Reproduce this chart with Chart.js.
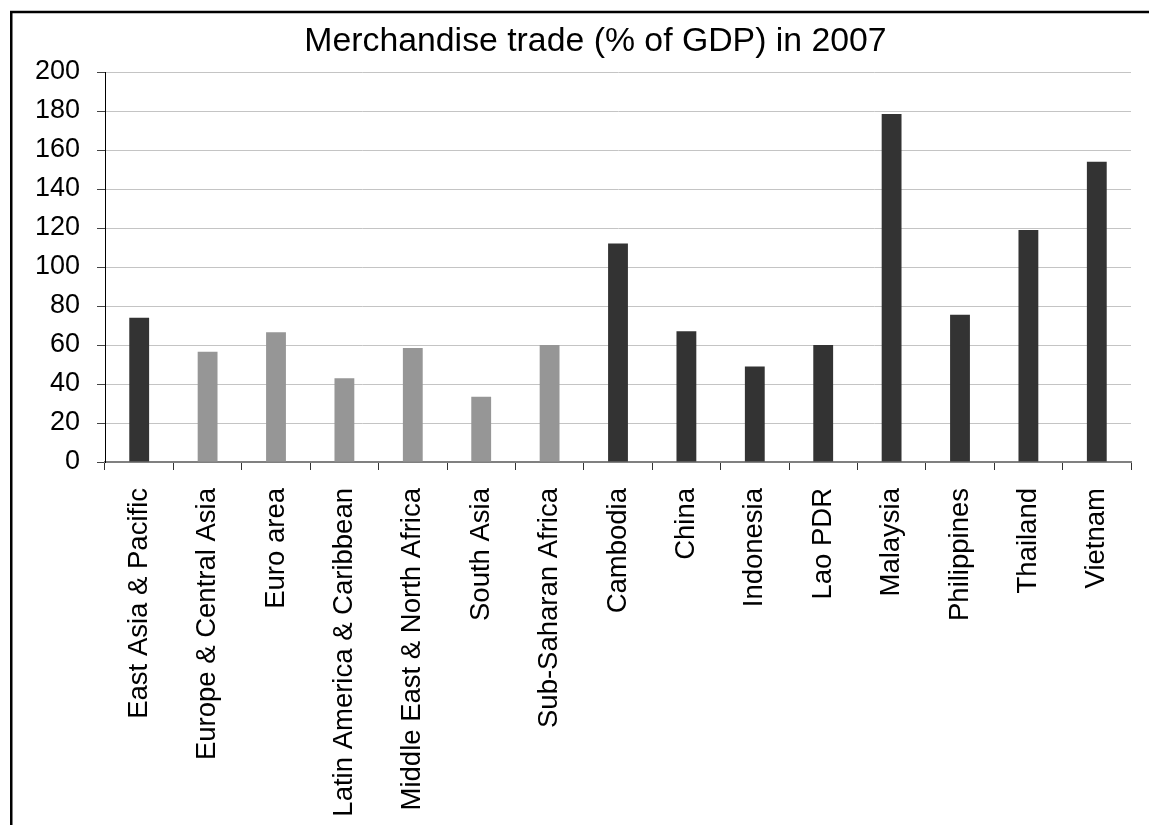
<!DOCTYPE html>
<html>
<head>
<meta charset="utf-8">
<script src="https://cdn.jsdelivr.net/npm/chart.js@4/dist/chart.umd.min.js"></script>
<style>
  html, body { margin: 0; padding: 0; background: #fff; }
  canvas { display: block; }
</style>
</head>
<body>
<canvas id="grafico" width="1149" height="825"></canvas>
<script>
// categorias del eje x
const categorias = [
  'East Asia & Pacific', 'Europe & Central Asia', 'Euro area',
  'Latin America & Caribbean', 'Middle East & North Africa', 'South Asia',
  'Sub-Saharan Africa', 'Cambodia', 'China', 'Indonesia', 'Lao PDR',
  'Malaysia', 'Philippines', 'Thailand', 'Vietnam'
];

// East Asia & Pacific y sus paises (barras oscuras)
const valoresAsiaEste = [74, null, null, null, null, null, null, 112, 67, 49, 60, 178.5, 75.5, 119, 154];
// resto de regiones (barras grises)
const valoresOtrasRegiones = [null, 56.5, 66.5, 43, 58.5, 33.5, 60, null, null, null, null, null, null, null, null];

const ticksY = [0, 20, 40, 60, 80, 100, 120, 140, 160, 180, 200];

const titulo = 'Merchandise trade (% of GDP) in 2007';

const fuente = 'Liberation Sans, Arial, sans-serif';

// marco negro alrededor del grafico (se sale por la derecha y abajo) y titulo
const marcoYTitulo = {
  id: 'marcoYTitulo',
  afterDraw(chart) {
    const ctx = chart.ctx;
    ctx.save();
    ctx.strokeStyle = '#000';
    ctx.lineWidth = 2.5;
    ctx.strokeRect(11.25, 12, 1300, 1000);
    ctx.fillStyle = '#000';
    ctx.font = '33.8px ' + fuente;
    ctx.textAlign = 'center';
    ctx.textBaseline = 'alphabetic';
    ctx.fillText(titulo, 595.5, 51);
    ctx.restore();
  }
};

new Chart(document.getElementById('grafico').getContext('2d'), {
  type: 'bar',
  data: {
    labels: categorias,
    datasets: [
      { label: 'East Asia', data: valoresAsiaEste, backgroundColor: '#333333' },
      { label: 'Other regions', data: valoresOtrasRegiones, backgroundColor: '#969696' }
    ]
  },
  options: {
    responsive: false,
    animation: false,
    devicePixelRatio: 1,
    layout: { padding: { top: 72, left: 0, right: 18, bottom: 0 } },
    datasets: { bar: { grouped: false, categoryPercentage: 1, barPercentage: 0.29 } },
    plugins: {
      legend: { display: false },
      tooltip: { enabled: false },
      title: { display: false }
    },
    scales: {
      x: {
        grid: { drawOnChartArea: false, drawTicks: true, tickLength: 8, tickColor: '#333', offset: true },
        border: { color: '#808080', width: 2 },
        ticks: {
          color: '#000',
          minRotation: 90,
          maxRotation: 90,
          autoSkip: false,
          padding: 18,
          font: { family: fuente, size: 27.5 }
        },
        afterFit(scale) { scale.height = 363; }
      },
      y: {
        min: 0,
        max: 200,
        afterBuildTicks(scale) { scale.ticks = ticksY.map(v => ({ value: v })); },
        grid: { color: '#c4c4c4', lineWidth: 1, tickLength: 8, tickColor: '#444' },
        border: { color: '#000', width: 1 },
        ticks: {
          color: '#000',
          padding: 17,
          font: { family: fuente, size: 27 }
        },
        afterFit(scale) { scale.width = 105; }
      }
    }
  },
  plugins: [marcoYTitulo]
});
</script>
</body>
</html>
